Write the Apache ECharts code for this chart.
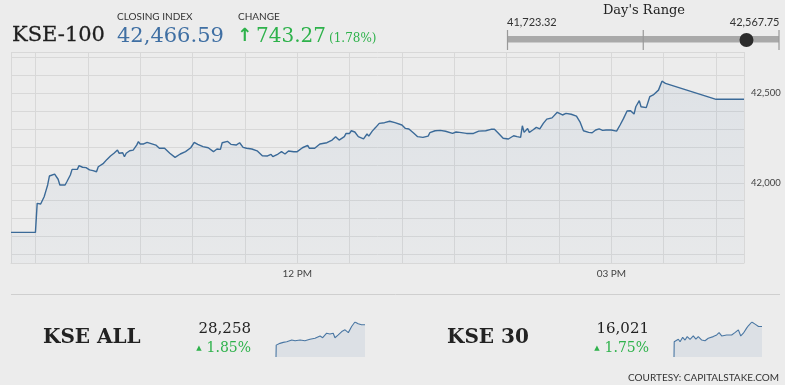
<!DOCTYPE html>
<html><head><meta charset="utf-8">
<script src="https://cdn.jsdelivr.net/npm/echarts@6/dist/echarts.min.js"></script>
<style>html,body{margin:0;padding:0;background:#ececec;}#c{width:785px;height:385px;}</style>
</head><body><div id="c"></div>
<script>
// ---- Data ----
const indexName = 'KSE-100';
const closingIndex = 42466.59;
const changeValue = 743.27;
const changePct = 1.78;
const dayLow = 41723.32;
const dayHigh = 42567.75;

const kse100Times = ['09:16','09:30','09:31','09:33','09:35','09:36','09:37','09:38','09:39','09:41','09:43','09:44','09:45','09:47','09:48','09:50','09:51','09:52','09:54','09:55','09:57','09:59','10:01','10:03','10:05','10:06','10:07','10:09','10:11','10:13','10:15','10:17','10:18','10:20','10:21','10:22','10:24','10:26','10:28','10:29','10:30','10:32','10:34','10:35','10:39','10:41','10:44','10:47','10:50','10:53','10:56','10:59','11:01','11:03','11:06','11:09','11:12','11:14','11:16','11:17','11:20','11:22','11:25','11:27','11:29','11:31','11:34','11:37','11:40','11:43','11:45','11:46','11:49','11:51','11:53','11:55','11:58','12:00','12:03','12:06','12:07','12:10','12:13','12:17','12:20','12:22','12:24','12:27','12:28','12:30','12:31','12:33','12:35','12:38','12:40','12:41','12:43','12:45','12:47','12:50','12:51','12:53','12:56','13:00','13:02','13:04','13:07','13:09','13:12','13:15','13:16','13:19','13:22','13:25','13:29','13:31','13:33','13:37','13:41','13:44','13:48','13:51','13:52','13:53','13:55','13:58','14:01','14:04','14:06','14:08','14:09','14:10','14:12','14:13','14:15','14:17','14:19','14:21','14:23','14:26','14:27','14:29','14:32','14:34','14:37','14:40','14:42','14:44','14:47','14:49','14:51','14:53','14:55','14:57','15:00','15:03','15:05','15:07','15:08','15:09','15:11','15:13','15:14','15:16','15:17','15:18','15:20','15:21','15:22','15:24','15:25','15:27','15:29','15:31','16:00','16:16'];
const kse100Values = [41723.32,41723.32,41885,41882,41922,41955,41988,42038,42034,42049,42020,41988,41978,41988,42006,42044,42075,42072,42075,42096,42087,42085,42072,42068,42062,42090,42099,42109,42131,42150,42165,42183,42165,42168,42146,42165,42179,42183,42211,42230,42217,42217,42226,42215,42211,42193,42193,42165,42142,42161,42174,42196,42226,42215,42202,42196,42174,42189,42187,42224,42232,42215,42211,42224,42198,42193,42189,42179,42151,42150,42159,42146,42161,42174,42161,42178,42174,42174,42196,42209,42193,42193,42217,42224,42239,42258,42239,42258,42276,42276,42291,42284,42258,42246,42273,42261,42289,42310,42332,42336,42347,42344,42336,42323,42304,42301,42276,42258,42254,42261,42280,42291,42293,42288,42276,42284,42282,42276,42276,42289,42291,42299,42291,42299,42280,42249,42245,42263,42258,42254,42319,42282,42304,42282,42295,42310,42301,42332,42356,42363,42373,42394,42379,42388,42383,42373,42341,42291,42282,42280,42295,42301,42293,42295,42295,42289,42323,42360,42369,42401,42403,42384,42425,42459,42425,42435,42420,42429,42481,42491,42491,42518,42567.75,42556,42466.59,42466.59];

const yTickLabels = [42000, 42500];
const xTickLabels = ['12 PM', '03 PM'];

const kseAllName = 'KSE ALL';
const kseAllClose = 28258;
const kseAllPct = 1.85;
const kseAllTimes = ['09:30','09:31','09:48','10:03','10:19','10:42','10:57','11:20','11:42','12:05','12:28','12:51','13:03','13:21','13:36','13:51','13:59','14:14','14:30','14:45','15:00','15:15','15:30','15:45','16:00','16:16'];
const kseAllValues = [27745,27934,27962,27978,27988,28015,28004,28015,28004,28027,28043,28080,28052,28124,28112,28124,28052,28096,28150,28177,28133,28230,28302,28274,28258,28258];

const kse30Name = 'KSE 30';
const kse30Close = 16021;
const kse30Pct = 1.75;
const kse30Times = ['09:30','09:31','09:50','09:58','10:10','10:21','10:31','10:44','10:59','11:11','11:22','11:38','11:53','12:08','12:31','12:47','12:58','13:10','13:33','13:56','14:11','14:27','14:38','14:50','15:05','15:13','15:29','15:44','16:00','16:16'];
const kse30Values = [15745,15883,15905,15883,15923,15898,15929,15905,15935,15907,15929,15898,15892,15914,15929,15944,15965,15935,15944,15944,15965,15990,15935,15960,16006,16027,16061,16042,16021,16021];

const courtesy = 'COURTESY: CAPITALSTAKE.COM';

// ---- Helpers ----
const toMin = s => { const p = s.split(':'); return (+p[0]) * 60 + (+p[1]); };
const pairs = (t, v) => t.map((s, i) => [toMin(s), v[i]]);
const fmt = (v, d) => v.toLocaleString('en-US', {minimumFractionDigits: d, maximumFractionDigits: d});
const serif = "'DejaVu Serif', serif";
const sans = "Lato, sans-serif";
const green = '#2eb24b';
const lineBlue = '#3b6a98';

const chart = echarts.init(document.getElementById('c'), null, {renderer: 'canvas'});

// Day's range bar
const barX0 = 507.5, barX1 = 779;
const dotX = barX0 + (closingIndex - dayLow) / (dayHigh - dayLow) * (barX1 - barX0);

const graphics = [
  {type: 'text', style: {text: indexName, x: 12, y: 35.5, font: '21px ' + serif, fill: '#1f1f1f', stroke: '#1f1f1f', lineWidth: 0.3, textVerticalAlign: 'middle'}},
  {type: 'text', style: {text: 'CLOSING INDEX', x: 117, y: 16.5, font: '10px ' + sans, fill: '#333', textVerticalAlign: 'middle'}},
  {type: 'text', style: {text: fmt(closingIndex, 2), x: 117, y: 36.5, font: '21px ' + serif, fill: '#3f6fa3', textVerticalAlign: 'middle'}},
  {type: 'text', style: {text: 'CHANGE', x: 238, y: 16.5, font: '10px ' + sans, fill: '#333', textVerticalAlign: 'middle'}},
  {type: 'text', style: {text: '\u2191', x: 237, y: 36, font: 'bold 18px DejaVu Sans', fill: green, textVerticalAlign: 'middle'}},
  {type: 'text', style: {text: fmt(changeValue, 2), x: 256, y: 36.5, font: '20px ' + serif, fill: green, textVerticalAlign: 'middle'}},
  {type: 'text', style: {text: '(' + changePct.toFixed(2) + '%)', x: 329, y: 39, font: '12px ' + serif, fill: green, textVerticalAlign: 'middle'}},

  {type: 'text', style: {text: "Day's Range", x: 644, y: 11, font: '13px ' + serif, fill: '#222', textAlign: 'center', textVerticalAlign: 'middle'}},
  {type: 'text', style: {text: fmt(dayLow, 2), x: barX0 - 0.5, y: 22.5, font: '11px ' + sans, fill: '#333', textVerticalAlign: 'middle'}},
  {type: 'text', style: {text: fmt(dayHigh, 2), x: barX1 + 0.5, y: 22.5, font: '11px ' + sans, fill: '#333', textAlign: 'right', textVerticalAlign: 'middle'}},
  {type: 'rect', shape: {x: barX0, y: 36, width: barX1 - barX0, height: 6.5}, style: {fill: '#a9a9a9'}},
  {type: 'line', shape: {x1: barX0, y1: 30, x2: barX0, y2: 50}, style: {stroke: '#999', lineWidth: 1.2}},
  {type: 'line', shape: {x1: (barX0 + barX1) / 2, y1: 30, x2: (barX0 + barX1) / 2, y2: 50}, style: {stroke: '#999', lineWidth: 1.2}},
  {type: 'line', shape: {x1: barX1, y1: 30, x2: barX1, y2: 50}, style: {stroke: '#999', lineWidth: 1.2}},
  {type: 'circle', shape: {cx: dotX, cy: 40, r: 7}, style: {fill: '#2b2b2b'}},

  {type: 'line', shape: {x1: 11, y1: 294.5, x2: 780, y2: 294.5}, style: {stroke: '#cfcfcf', lineWidth: 1}},
  {type: 'text', style: {text: kseAllName, x: 43, y: 338, font: 'bold 20px ' + serif, fill: '#222', textVerticalAlign: 'middle'}},
  {type: 'text', style: {text: fmt(kseAllClose, 0), x: 251, y: 329, font: '15px ' + serif, fill: '#222', textAlign: 'right', textVerticalAlign: 'middle'}},
  {type: 'text', style: {text: '\u25B2', x: 199, y: 348, font: '7px DejaVu Sans', fill: green, textAlign: 'center', textVerticalAlign: 'middle'}},
  {type: 'text', style: {text: kseAllPct.toFixed(2) + '%', x: 251, y: 348, font: '14px ' + serif, fill: green, textAlign: 'right', textVerticalAlign: 'middle'}},
  {type: 'text', style: {text: kse30Name, x: 447, y: 338, font: 'bold 20px ' + serif, fill: '#222', textVerticalAlign: 'middle'}},
  {type: 'text', style: {text: fmt(kse30Close, 0), x: 649, y: 329, font: '15px ' + serif, fill: '#222', textAlign: 'right', textVerticalAlign: 'middle'}},
  {type: 'text', style: {text: '\u25B2', x: 597, y: 348, font: '7px DejaVu Sans', fill: green, textAlign: 'center', textVerticalAlign: 'middle'}},
  {type: 'text', style: {text: kse30Pct.toFixed(2) + '%', x: 649, y: 348, font: '14px ' + serif, fill: green, textAlign: 'right', textVerticalAlign: 'middle'}},
  {type: 'text', style: {text: courtesy, x: 779, y: 377.5, font: '10px ' + sans, fill: '#333', textAlign: 'right', textVerticalAlign: 'middle'}}
];

const gridColor = '#d8d8d8';
const sparkX = (i) => ({gridIndex: i, type: 'value', min: 570, max: 976, show: false});
const sparkY = (i) => ({gridIndex: i, type: 'value', min: 'dataMin', max: 'dataMax', show: false, scale: true});
const sparkSeries = (i, data) => ({
  type: 'line', xAxisIndex: i, yAxisIndex: i, data: data, symbol: 'none', silent: true,
  lineStyle: {color: '#4a77a3', width: 1.1},
  areaStyle: {color: 'rgba(80,120,170,0.14)', origin: 'start'}
});

chart.setOption({
  backgroundColor: '#ececec',
  animation: false,
  grid: [
    {left: 11, top: 52, width: 733, height: 211},
    {left: 276, top: 322, width: 89, height: 35},
    {left: 674, top: 322, width: 88, height: 35}
  ],
  xAxis: [
    {
      gridIndex: 0, type: 'value', min: 556, max: 976, minInterval: 30, maxInterval: 30,
      axisLine: {show: true, lineStyle: {color: gridColor}},
      axisTick: {show: false},
      splitLine: {show: true, lineStyle: {color: gridColor, width: 1}},
      axisLabel: {
        color: '#444', fontFamily: 'Lato', fontSize: 10, margin: 6,
        formatter: v => {
          if (v % 180 !== 0) return '';
          const h = Math.floor(v / 60);
          const lbl = String(h % 12 === 0 ? 12 : h % 12).padStart(2, '0') + (h >= 12 ? ' PM' : ' AM');
          return xTickLabels.indexOf(lbl) >= 0 ? lbl : '';
        }
      }
    },
    sparkX(1), sparkX(2)
  ],
  yAxis: [
    {
      gridIndex: 0, type: 'value', position: 'right', min: 41552, max: 42731, minInterval: 100, maxInterval: 100,
      axisLine: {show: false}, axisTick: {show: false},
      splitLine: {show: true, lineStyle: {color: gridColor, width: 1}},
      axisLabel: {
        color: '#444', fontFamily: 'Lato', fontSize: 9.5, margin: 7,
        formatter: v => yTickLabels.indexOf(v) >= 0 ? v.toLocaleString('en-US') : ''
      }
    },
    sparkY(1), sparkY(2)
  ],
  series: [
    {
      type: 'line', data: pairs(kse100Times, kse100Values), symbol: 'none', silent: true,
      lineStyle: {color: lineBlue, width: 1.4},
      areaStyle: {
        origin: 'start',
        color: new echarts.graphic.LinearGradient(0, 0, 0, 1, [
          {offset: 0, color: 'rgba(75,118,168,0.12)'},
          {offset: 1, color: 'rgba(75,118,168,0.04)'}
        ])
      }
    },
    sparkSeries(1, pairs(kseAllTimes, kseAllValues)),
    sparkSeries(2, pairs(kse30Times, kse30Values))
  ],
  graphic: graphics
});
</script>
</body></html>
